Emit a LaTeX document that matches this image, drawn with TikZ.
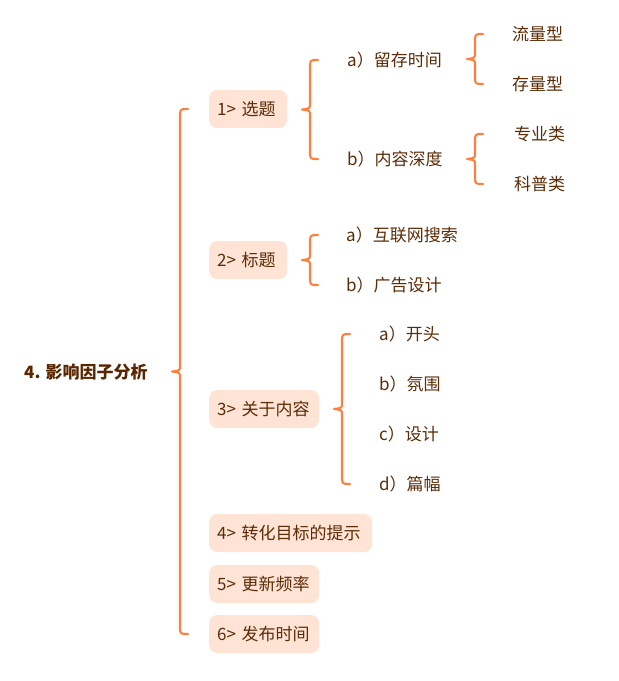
\documentclass[tikz,border=0pt]{standalone}
\usepackage{fontspec}
\setmainfont{Noto Sans CJK SC}
\usetikzlibrary{calc}
\definecolor{txt}{HTML}{5B2C06}
\definecolor{rootc}{HTML}{5A2600}
\definecolor{brc}{HTML}{FF7F3F}
\definecolor{boxf}{HTML}{FFE4D6}
\newcommand\mybrace[3]{%
  \draw[bracestyle] let \p1=(#2.west), \p2=(#3.west), \n1={0.5*(\y1+\y2)} in
  ({#1+16},\y1) .. controls ({#1+8},\y1) .. ({#1+8},\y1-8)
  -- ({#1+8},{\n1+6}) .. controls ({#1+8},{\n1+1}) .. ({#1},{\n1})
  .. controls ({#1+8},{\n1-1}) .. ({#1+8},{\n1-6})
  -- ({#1+8},\y2+8) .. controls ({#1+8},\y2) .. ({#1+16},\y2);}
\begin{document}
\begin{tikzpicture}[x=1pt,y=1pt,
  font=\fontsize{17}{20}\selectfont, text=txt,
  lbl/.style={anchor=west, inner sep=0pt},
  topic/.style={anchor=west, fill=boxf, rounded corners=8pt, minimum height=38pt,
    inner xsep=8pt, inner ysep=0pt, align=left},
  bracestyle/.style={draw=brc, line width=2.1pt, line cap=round, line join=round}]
\useasboundingbox (0,0) rectangle (619,-681);

% root
\node[lbl, font=\fontsize{17}{20}\selectfont\bfseries, text=rootc] (root) at (24,-372) {4. 影响因子分析};

% level 1 topics
\node[topic, text width=62pt]  (t1) at (209,-109) {1> 选题};
\node[topic, text width=62pt]  (t2) at (209,-260) {2> 标题};
\node[topic, text width=94pt]  (t3) at (209,-409) {3> 关于内容};
\node[topic, text width=147pt] (t4) at (209,-533) {4> 转化目标的提示};
\node[topic, text width=94pt]  (t5) at (209,-584) {5> 更新频率};
\node[topic, text width=94pt]  (t6) at (209,-634) {6> 发布时间};

% under 1
\node[lbl] (a1) at (347,-60)  {a）留存时间};
\node[lbl] (b1) at (347,-159) {b）内容深度};
\node[lbl] (a1a) at (512,-34)  {流量型};
\node[lbl] (a1b) at (512,-84)  {存量型};
\node[lbl] (b1a) at (514,-134) {专业类};
\node[lbl] (b1b) at (514,-184) {科普类};

% under 2
\node[lbl] (a2) at (346,-235) {a）互联网搜索};
\node[lbl] (b2) at (346,-285) {b）广告设计};

% under 3
\node[lbl] (a3) at (379,-334) {a）开头};
\node[lbl] (b3) at (379,-384) {b）氛围};
\node[lbl] (c3) at (379,-434) {c）设计};
\node[lbl] (d3) at (379,-484) {d）篇幅};

% braces
\mybrace{172}{t1}{t6}
\mybrace{302}{a1}{b1}
\mybrace{467}{a1a}{a1b}
\mybrace{467}{b1a}{b1b}
\mybrace{302}{a2}{b2}
\mybrace{334}{a3}{d3}
\end{tikzpicture}
\end{document}
